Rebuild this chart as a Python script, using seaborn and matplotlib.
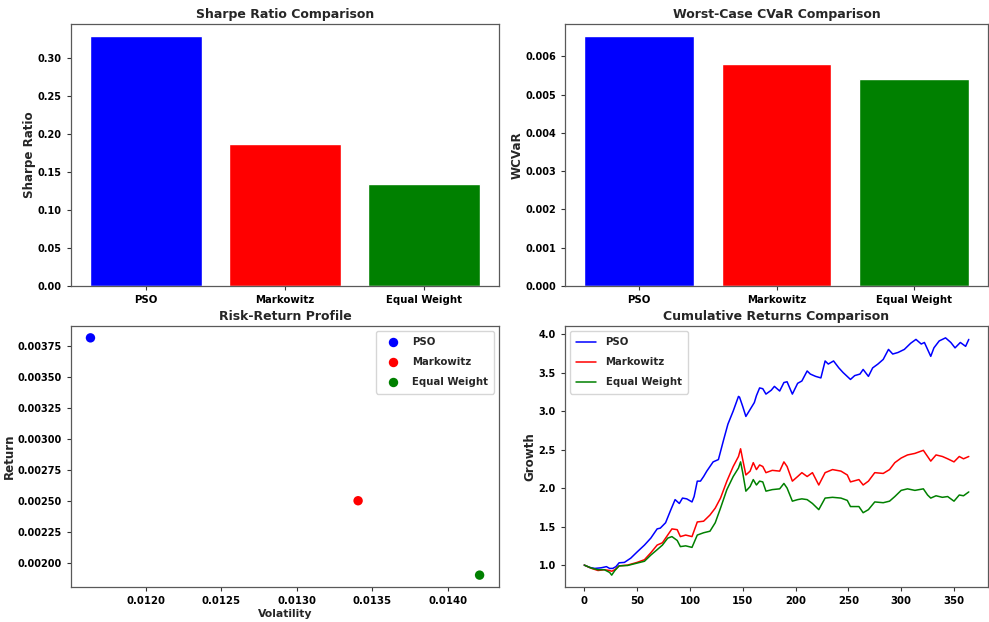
import matplotlib
matplotlib.use("Agg")
import matplotlib.pyplot as plt
import seaborn as sns
import pandas as pd

# ---- data -------------------------------------------------------------
strategies = ["PSO", "Markowitz", "Equal Weight"]
colors = ["blue", "red", "green"]

sharpe = [0.329, 0.187, 0.134]
wcvar = [0.00652, 0.00581, 0.00542]

volatility = [0.011634, 0.013405, 0.014209]
mean_return = [0.003817, 0.002501, 0.001900]

days_pso = [0, 5, 10, 16, 21, 24, 27, 30, 33, 38, 44, 50, 57, 63, 69, 72, 77, 82,
            86, 90, 93, 97, 102, 104, 107, 110, 113, 116, 122, 127, 132, 136, 141,
            146, 147, 150, 153, 157, 161, 163, 166, 169, 172, 177, 180, 185, 189,
            192, 197, 202, 206, 211, 214, 219, 224, 228, 231, 236, 241, 245, 252,
            256, 261, 264, 269, 273, 278, 283, 288, 292, 297, 303, 309, 314, 319,
            322, 325, 328, 331, 336, 342, 347, 351, 356, 361, 364]
growth_pso = [1.00, 0.97, 0.957, 0.965, 0.98, 0.957, 0.957, 0.98, 1.03, 1.035, 1.09,
              1.17, 1.26, 1.35, 1.47, 1.48, 1.55, 1.72, 1.85, 1.80, 1.87, 1.86, 1.82,
              1.89, 2.09, 2.09, 2.15, 2.22, 2.34, 2.37, 2.63, 2.83, 3.00, 3.19, 3.18,
              3.06, 2.93, 3.02, 3.11, 3.20, 3.30, 3.29, 3.22, 3.27, 3.32, 3.26, 3.37,
              3.38, 3.22, 3.36, 3.39, 3.52, 3.48, 3.45, 3.43, 3.65, 3.61, 3.65, 3.56,
              3.50, 3.41, 3.46, 3.48, 3.54, 3.45, 3.56, 3.61, 3.67, 3.80, 3.74, 3.76,
              3.80, 3.88, 3.93, 3.87, 3.89, 3.80, 3.71, 3.82, 3.91, 3.95, 3.89, 3.82,
              3.89, 3.84, 3.93]

days_other = [0, 7, 13, 19, 24, 26, 29, 33, 41, 50, 57, 63, 69, 74, 79, 83, 88, 91,
              96, 102, 107, 113, 119, 124, 129, 135, 141, 146, 148, 150, 153, 157,
              160, 163, 166, 169, 172, 178, 185, 189, 192, 197, 202, 206, 211, 216,
              222, 228, 235, 243, 249, 252, 260, 264, 269, 275, 283, 289, 294, 300,
              306, 313, 321, 325, 328, 333, 339, 344, 350, 355, 359, 364]
growth_markowitz = [1.00, 0.957, 0.93, 0.94, 0.93, 0.92, 0.94, 0.99, 1.00, 1.035,
                    1.07, 1.16, 1.26, 1.29, 1.39, 1.47, 1.46, 1.37, 1.39, 1.37, 1.56,
                    1.57, 1.65, 1.74, 1.87, 2.09, 2.28, 2.41, 2.51, 2.37, 2.17, 2.22,
                    2.33, 2.24, 2.30, 2.28, 2.20, 2.23, 2.22, 2.34, 2.28, 2.09, 2.15,
                    2.20, 2.15, 2.20, 2.04, 2.20, 2.24, 2.22, 2.17, 2.08, 2.11, 2.04,
                    2.09, 2.20, 2.19, 2.24, 2.33, 2.39, 2.43, 2.45, 2.49, 2.41, 2.35,
                    2.43, 2.41, 2.38, 2.34, 2.41, 2.38, 2.41]
growth_equal = [1.00, 0.96, 0.94, 0.94, 0.905, 0.87, 0.93, 0.99, 0.995, 1.026, 1.05,
                1.13, 1.20, 1.26, 1.35, 1.37, 1.32, 1.24, 1.25, 1.23, 1.39, 1.42,
                1.44, 1.55, 1.74, 1.98, 2.15, 2.26, 2.34, 2.20, 1.96, 2.02, 2.11,
                2.04, 2.09, 2.08, 1.96, 1.98, 1.99, 2.06, 2.00, 1.83, 1.85, 1.86,
                1.85, 1.80, 1.72, 1.87, 1.88, 1.87, 1.84, 1.76, 1.76, 1.68, 1.72,
                1.82, 1.81, 1.83, 1.89, 1.97, 1.99, 1.97, 1.99, 1.91, 1.87, 1.90,
                1.88, 1.89, 1.83, 1.91, 1.90, 1.95]

# ---- style ------------------------------------------------------------
sns.set_style("ticks")
plt.rcParams.update({
    "font.family": ["DejaVu Sans"],
    "font.weight": "bold",
    "axes.titleweight": "bold",
    "axes.labelweight": "bold",
    "axes.edgecolor": "0.35",
    "axes.linewidth": 0.9,
    "xtick.color": "0.2",
    "ytick.color": "0.2",
    "xtick.labelcolor": "black",
    "ytick.labelcolor": "black",
    "xtick.major.size": 3,
    "ytick.major.size": 3,
})

XTICK = 7.3
YTICK = 7.0
XLABEL = 7.8
YLABEL = 8.6
TITLE = 9.0
LEG = 7.3

palette = dict(zip(strategies, colors))

fig = plt.figure(figsize=(9.89, 6.22), dpi=100)
ax_sr = fig.add_axes([0.0718, 0.5402, 0.4328, 0.4212])
ax_cv = fig.add_axes([0.5713, 0.5402, 0.4277, 0.4212])
ax_rr = fig.add_axes([0.0718, 0.0563, 0.4328, 0.4196])
ax_cr = fig.add_axes([0.5713, 0.0563, 0.4277, 0.4196])

# Sharpe ratio bars
bars = pd.DataFrame({"Strategy": strategies, "Sharpe": sharpe, "WCVaR": wcvar})
sns.barplot(data=bars, x="Strategy", y="Sharpe", hue="Strategy", palette=palette,
            saturation=1, width=0.8, legend=False, ax=ax_sr)
ax_sr.set_xlim(-0.54, 2.54)
ax_sr.set_title("Sharpe Ratio Comparison", fontsize=TITLE, pad=4)
ax_sr.set_ylabel("Sharpe Ratio", fontsize=YLABEL, labelpad=1.5)
ax_sr.set_xlabel("")

# Worst-case CVaR bars
sns.barplot(data=bars, x="Strategy", y="WCVaR", hue="Strategy", palette=palette,
            saturation=1, width=0.8, legend=False, ax=ax_cv)
ax_cv.set_xlim(-0.54, 2.54)
ax_cv.set_title("Worst-Case CVaR Comparison", fontsize=TITLE, pad=4)
ax_cv.set_ylabel("WCVaR", fontsize=YLABEL, labelpad=1.5)
ax_cv.set_xlabel("")

# Risk-return scatter
rr = pd.DataFrame({"Strategy": strategies, "Volatility": volatility,
                   "Return": mean_return})
sns.scatterplot(data=rr, x="Volatility", y="Return", hue="Strategy",
                palette=palette, s=46, linewidth=0, ax=ax_rr)
ax_rr.set_title("Risk-Return Profile", fontsize=TITLE, pad=4)
ax_rr.set_xlabel("Volatility", fontsize=XLABEL, labelpad=2)
ax_rr.set_ylabel("Return", fontsize=YLABEL, labelpad=1.0)
h, l = ax_rr.get_legend_handles_labels()
ax_rr.legend(h, l, loc="upper right", fontsize=LEG, title=None,
             labelspacing=1.0, handletextpad=0.9, borderpad=0.6)

# Cumulative growth lines
frames = [
    pd.DataFrame({"Day": days_pso, "Growth": growth_pso, "Strategy": "PSO"}),
    pd.DataFrame({"Day": days_other, "Growth": growth_markowitz, "Strategy": "Markowitz"}),
    pd.DataFrame({"Day": days_other, "Growth": growth_equal, "Strategy": "Equal Weight"}),
]
cum = pd.concat(frames, ignore_index=True)
sns.lineplot(data=cum, x="Day", y="Growth", hue="Strategy", hue_order=strategies,
             palette=palette, estimator=None, linewidth=1.1, ax=ax_cr)
ax_cr.set_title("Cumulative Returns Comparison", fontsize=TITLE, pad=4)
ax_cr.set_xlabel("")
ax_cr.set_ylabel("Growth", fontsize=YLABEL, labelpad=1.5)
ax_cr.set_xticks([0, 50, 100, 150, 200, 250, 300, 350])
h, l = ax_cr.get_legend_handles_labels()
ax_cr.legend(h, l, loc="upper left", fontsize=LEG, title=None,
             labelspacing=1.0, handletextpad=0.9, borderpad=0.6)

for ax in (ax_sr, ax_cv, ax_rr, ax_cr):
    ax.tick_params(axis="x", labelsize=XTICK)
    ax.tick_params(axis="y", labelsize=YTICK)
    for lab in ax.get_xticklabels() + ax.get_yticklabels():
        lab.set_fontweight("bold")
    for side in ("top", "right", "left", "bottom"):
        ax.spines[side].set_visible(True)

fig.savefig("out.png", dpi=100)
